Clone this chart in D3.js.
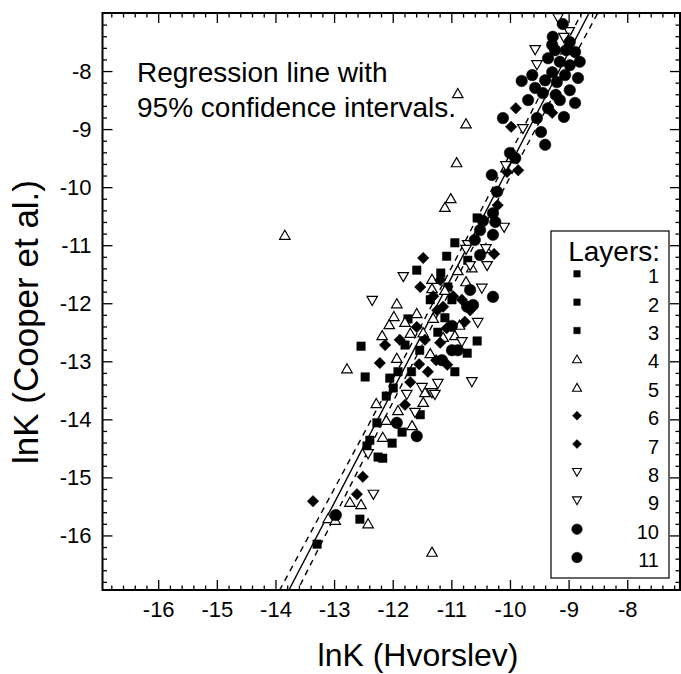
<!DOCTYPE html>
<html>
<head>
<meta charset="utf-8">
<script src="https://cdn.jsdelivr.net/npm/d3@7/dist/d3.min.js"></script>
<style>
  body { margin: 0; background: #fff; }
  text { font-family: "Liberation Sans", Arial, Helvetica, sans-serif; fill: #000; }
</style>
</head>
<body>
<svg id="chart" width="681" height="674"></svg>
<script>
"use strict";

// tick labels
const xTicks = [-16, -15, -14, -13, -12, -11, -10, -9, -8];
const yTicks = [-16, -15, -14, -13, -12, -11, -10, -9, -8];

// lnK values per layer: [Hvorslev, Cooper et al.]
const layer1 = [[-12.54,-12.74],[-12.47,-13.27],[-11.74,-12.27],[-11.59,-11.43],[-10.94,-10.96],[-11.08,-11.19],[-11.18,-11.48],[-10.56,-10.53],[-10.56,-12.65],[-10.73,-12.86]];
const layer2 = [[-11.06,-11.72],[-11.91,-13.18],[-12.05,-13.29],[-12.11,-13.60],[-12.27,-14.06],[-12.39,-14.36],[-12.44,-14.46],[-12.25,-14.65],[-12.17,-14.67],[-12.56,-15.72]];
const layer3 = [[-13.29,-16.15],[-11.99,-13.46],[-11.84,-14.22],[-12.01,-14.41],[-11.54,-12.81],[-11.68,-13.18],[-10.99,-11.94],[-10.72,-11.26],[-11.79,-12.72],[-11.36,-11.94],[-11.11,-12.25],[-11.23,-12.50],[-10.94,-13.18],[-11.53,-13.92]];
const layer4 = [[-13.84,-10.82],[-11.33,-16.28],[-10.89,-8.38],[-10.75,-8.90],[-10.91,-9.57],[-11.01,-10.19],[-11.11,-10.34],[-10.41,-11.05],[-10.65,-11.38],[-10.75,-11.62],[-11.33,-11.58],[-11.93,-12.00],[-11.98,-12.22],[-12.06,-12.36],[-11.79,-12.32],[-11.70,-12.51],[-11.31,-12.25],[-11.14,-12.58]];
const layer5 = [[-11.36,-12.86],[-11.93,-12.94],[-12.18,-12.55],[-12.78,-13.12],[-12.28,-13.72],[-12.11,-14.01],[-12.17,-14.30],[-12.73,-15.42],[-12.54,-15.46],[-12.42,-15.79],[-13.10,-15.70],[-12.98,-15.73],[-11.48,-13.70],[-11.45,-13.53],[-11.48,-12.50],[-11.11,-11.77],[-10.86,-12.37],[-11.59,-12.17],[-11.33,-11.74],[-10.89,-11.43],[-11.91,-13.84],[-11.67,-14.10],[-10.94,-12.55]];
const layer6 = [[-9.90,-8.64],[-9.98,-8.96],[-9.28,-8.72],[-9.86,-9.71],[-10.05,-9.74],[-11.48,-11.22],[-11.53,-11.72],[-10.97,-11.88],[-11.14,-12.06],[-11.08,-12.43],[-11.59,-12.41],[-12.13,-12.72],[-11.19,-12.68],[-11.55,-13.05]];
const layer7 = [[-11.40,-13.18],[-11.70,-13.36],[-12.22,-13.03],[-10.77,-12.32],[-12.51,-14.99],[-12.61,-15.29],[-13.36,-15.41],[-10.27,-11.15],[-11.31,-11.88],[-11.88,-12.63],[-11.26,-12.98],[-10.68,-12.12],[-10.21,-10.31],[-11.24,-12.12],[-11.45,-12.63],[-10.82,-11.94],[-11.19,-11.60],[-11.07,-13.06],[-11.79,-13.75]];
const layer8 = [[-9.18,-7.09],[-8.99,-7.33],[-9.08,-7.43],[-9.57,-7.64],[-9.54,-7.90],[-9.78,-9.00],[-10.07,-9.64],[-10.10,-10.70],[-10.41,-11.07],[-10.39,-11.36],[-10.68,-11.36],[-10.72,-11.00],[-11.82,-11.55]];
const layer9 = [[-10.48,-11.75],[-10.55,-12.34],[-10.82,-12.67],[-10.65,-13.36],[-11.23,-13.39],[-11.50,-13.46],[-12.35,-11.96],[-12.42,-14.60],[-12.33,-15.30],[-11.33,-13.55],[-11.76,-13.58],[-11.62,-13.89],[-10.75,-11.08],[-11.28,-13.58]];
const layer10 = [[-9.10,-7.19],[-9.23,-7.64],[-9.04,-7.64],[-8.89,-7.67],[-9.35,-7.78],[-9.15,-7.84],[-8.98,-7.90],[-8.81,-7.84],[-9.28,-8.02],[-9.06,-8.07],[-8.84,-8.12],[-9.40,-8.16],[-9.20,-8.19],[-9.57,-8.29],[-9.44,-8.38],[-8.89,-8.55],[-9.80,-8.17],[-9.08,-8.79],[-10.12,-8.81],[-9.54,-8.81],[-9.47,-9.05],[-9.40,-9.27],[-9.28,-7.55],[-8.98,-7.50],[-9.15,-8.50],[-9.35,-8.64],[-9.62,-8.07]];
const layer11 = [[-10.00,-9.41],[-9.91,-9.50],[-10.31,-9.79],[-10.22,-10.08],[-10.29,-10.45],[-10.25,-10.60],[-10.29,-10.82],[-10.51,-10.74],[-10.46,-10.58],[-10.29,-11.89],[-10.73,-12.06],[-10.63,-12.03],[-11.16,-12.98],[-10.99,-12.81],[-10.89,-12.81],[-11.59,-14.29],[-11.93,-14.06],[-12.97,-15.65],[-9.22,-8.41],[-8.98,-8.33],[-9.69,-8.50],[-9.27,-7.41],[-10.99,-12.39],[-10.68,-11.77],[-10.60,-10.91],[-10.51,-11.17]];

// regression line and 95% confidence band
const regLine = [[-13.77,-16.94],[-8.65,-7.0]];
const ciUpper = [[-14.2,-17.45],[-12.5,-14.26],[-11.0,-11.39],[-9.5,-8.44],[-8.5,-6.44]];
const ciLower = [[-14.0,-17.70],[-12.5,-14.70],[-11.0,-11.75],[-9.5,-8.88],[-8.3,-6.62]];

const layerNames = ["1","2","3","4","5","6","7","8","9","10","11"];
const layerShapes = ["square","square","square","up","up","diamond","diamond","down","down","circle","circle"];
const layers = [layer1, layer2, layer3, layer4, layer5, layer6, layer7, layer8, layer9, layer10, layer11];

// custom symbol types: size = width in px
const shapes = {
    square: { draw(c, s) { c.rect(-s/2, -s/2, s, s); } },
    diamond: { draw(c, s) { const r = s/2; c.moveTo(0,-r); c.lineTo(r,0); c.lineTo(0,r); c.lineTo(-r,0); c.closePath(); } },
    circle: { draw(c, s) { c.moveTo(s/2, 0); c.arc(0, 0, s/2, 0, 2*Math.PI); } },
    up: { draw(c, s) { const h = s*0.866; c.moveTo(0,-h/2); c.lineTo(s/2,h/2); c.lineTo(-s/2,h/2); c.closePath(); } },
    down: { draw(c, s) { const h = s*0.866; c.moveTo(0,h/2); c.lineTo(s/2,-h/2); c.lineTo(-s/2,-h/2); c.closePath(); } }
};
const plotSize = { square: 8.5, diamond: 11.5, circle: 11.5, up: 10.5, down: 10.5 };
const legendSize = { square: 6.5, diamond: 9, circle: 10.5, up: 9, down: 9 };
const isOpen = s => s === "up" || s === "down";

const plotLeft = 102.5, plotRight = 680, plotTop = 13, plotBottom = 590;

const xScale = d3.scaleLinear().domain([-16.95, -7.1]).range([plotLeft, plotRight]);
const yScale = d3.scaleLinear().domain([-16.94, -7.0]).range([plotBottom, plotTop]);

const svg = d3.select("#chart");

svg.append("defs").append("clipPath").attr("id", "plotclip")
    .append("rect").attr("x", plotLeft).attr("y", plotTop)
    .attr("width", plotRight - plotLeft).attr("height", plotBottom - plotTop);

// minor tick positions every 0.2
function minorTicks(domain) {
    const out = [];
    for (let v = Math.ceil(domain[0] * 5); v <= Math.floor(domain[1] * 5); v++) {
        if (v % 5 !== 0) out.push(v / 5);
    }
    return out;
}
const xMinor = minorTicks(xScale.domain());
const yMinor = minorTicks(yScale.domain());

function styleAxis(g) {
    g.select(".domain").remove();
    g.selectAll(".tick line").attr("stroke", "#000").attr("stroke-width", 1.3);
}

// bottom
svg.append("g").attr("transform", `translate(0,${plotBottom})`)
    .call(d3.axisBottom(xScale).tickValues(xTicks).tickSize(-10).tickPadding(11).tickFormat(d3.format("d")))
    .call(styleAxis)
    .call(g => g.selectAll("text").style("font-size", "22px"));
svg.append("g").attr("transform", `translate(0,${plotBottom})`)
    .call(d3.axisBottom(xScale).tickValues(xMinor).tickSize(-4.5).tickFormat(""))
    .call(styleAxis);
// top
svg.append("g").attr("transform", `translate(0,${plotTop})`)
    .call(d3.axisTop(xScale).tickValues(xTicks).tickSize(-10).tickFormat(""))
    .call(styleAxis);
svg.append("g").attr("transform", `translate(0,${plotTop})`)
    .call(d3.axisTop(xScale).tickValues(xMinor).tickSize(-4.5).tickFormat(""))
    .call(styleAxis);
// left
svg.append("g").attr("transform", `translate(${plotLeft},0)`)
    .call(d3.axisLeft(yScale).tickValues(yTicks).tickSize(-10).tickPadding(11).tickFormat(d3.format("d")))
    .call(styleAxis)
    .call(g => g.selectAll("text").style("font-size", "22px"));
svg.append("g").attr("transform", `translate(${plotLeft},0)`)
    .call(d3.axisLeft(yScale).tickValues(yMinor).tickSize(-4.5).tickFormat(""))
    .call(styleAxis);
// right
svg.append("g").attr("transform", `translate(${plotRight},0)`)
    .call(d3.axisRight(yScale).tickValues(yTicks).tickSize(-10).tickFormat(""))
    .call(styleAxis);
svg.append("g").attr("transform", `translate(${plotRight},0)`)
    .call(d3.axisRight(yScale).tickValues(yMinor).tickSize(-4.5).tickFormat(""))
    .call(styleAxis);

// d3 axis uses the unicode minus; the figure uses a plain hyphen
svg.selectAll(".tick text").attr("font-family", null)
    .text(function() { return d3.select(this).text().replace("\u2212", "-"); });

// regression and confidence lines
const plot = svg.append("g").attr("clip-path", "url(#plotclip)");
const line = d3.line().x(d => xScale(d[0])).y(d => yScale(d[1]));
const curve = d3.line().x(d => xScale(d[0])).y(d => yScale(d[1])).curve(d3.curveNatural);

plot.append("path").attr("d", line(regLine))
    .attr("fill", "none").attr("stroke", "#000").attr("stroke-width", 1.4);
[ciUpper, ciLower].forEach(ci => {
    plot.append("path").attr("d", curve(ci))
        .attr("fill", "none").attr("stroke", "#000").attr("stroke-width", 1.4)
        .attr("stroke-dasharray", "6,5");
});

// points
layers.forEach((pts, i) => {
    const shape = layerShapes[i];
    const sym = d3.symbol().type(shapes[shape]).size(plotSize[shape]);
    plot.append("g").selectAll("path")
        .data(pts)
        .join("path")
        .attr("transform", d => `translate(${xScale(d[0])},${yScale(d[1])})`)
        .attr("d", sym)
        .attr("fill", isOpen(shape) ? "#fff" : "#000")
        .attr("stroke", "#000")
        .attr("stroke-width", isOpen(shape) ? 1.2 : 0.5);
});

// frame
svg.append("rect").attr("x", plotLeft).attr("y", plotTop)
    .attr("width", plotRight - plotLeft).attr("height", plotBottom - plotTop)
    .attr("fill", "none").attr("stroke", "#000").attr("stroke-width", 2);

// annotation
const note = svg.append("text").attr("x", 137).attr("y", 82).style("font-size", "28px");
note.append("tspan").attr("x", 137).text("Regression line with");
note.append("tspan").attr("x", 137).attr("y", 117).text("95% confidence intervals.");

// legend
const lg = svg.append("g");
lg.append("rect").attr("x", 551).attr("y", 231).attr("width", 118).attr("height", 347)
    .attr("fill", "#fff").attr("stroke", "#000").attr("stroke-width", 1.2);
lg.append("text").attr("x", 660).attr("y", 261).attr("text-anchor", "end")
    .style("font-size", "28px").text("Layers:");
layerNames.forEach((name, i) => {
    const cy = 276.3 + i * 28.37;
    const shape = layerShapes[i];
    lg.append("path")
        .attr("transform", `translate(577,${cy - 2.5})`)
        .attr("d", d3.symbol().type(shapes[shape]).size(legendSize[shape])())
        .attr("fill", isOpen(shape) ? "#fff" : "#000")
        .attr("stroke", "#000").attr("stroke-width", isOpen(shape) ? 1.1 : 0.5);
    lg.append("text").attr("x", 659).attr("y", cy + 7).attr("text-anchor", "end")
        .style("font-size", "20px").text(name);
});

// axis titles
svg.append("text").attr("x", 418).attr("y", 666)
    .attr("text-anchor", "middle").style("font-size", "32px").text("lnK (Hvorslev)");
svg.append("text").attr("transform", "translate(38,322) rotate(-90)")
    .attr("text-anchor", "middle").style("font-size", "35px").text("lnK (Cooper et al.)");
</script>
</body>
</html>
